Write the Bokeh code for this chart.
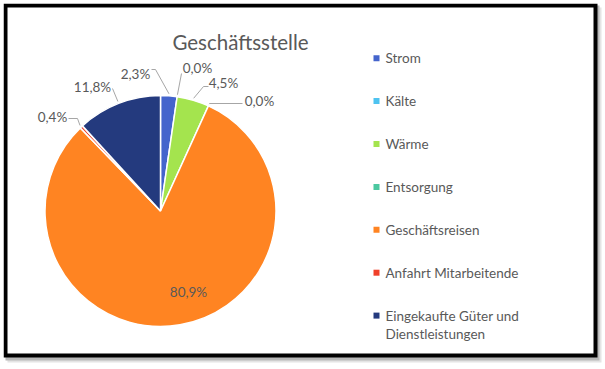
import math
from bokeh.plotting import figure
from bokeh.models import Range1d, ColumnDataSource
from bokeh.core.properties import value
from bokeh.embed import file_html
from bokeh.resources import INLINE

# ---- data ----
categories = ["Strom", "Kälte", "Wärme", "Entsorgung", "Geschäftsreisen",
              "Anfahrt Mitarbeitende", "Eingekaufte Güter und\nDienstleistungen"]
shares = [2.3, 0.0, 4.5, 0.0, 80.9, 0.4, 11.8]
colors = ["#4464CC", "#4EC3F0", "#A4E44E", "#4CC8A0", "#FF8422", "#F0402A", "#243A7E"]
title = "Geschäftsstelle"

# ---- layout (screen pixel coordinates of the reference) ----
W, H = 600, 362
OX, OY = 3, 3
def sx(x): return x - OX
def sy(y): return OY + H - y

CX, CY, R = 160.0, 210.5, 115.5
FONT = value("Lato")
GREY = "#595959"

label_pos = [(135, 73), (197, 67), (223, 82), (259, 100), (188, 291), (52, 116), (92, 86)]
leader_pts = [[(151, 69), (155, 69)], [(181, 73), (181, 73)], [(208, 86), (203, 86)],
              [(242, 103), (209, 103)], None, [(68, 118), (77, 118)], [(112, 88), (112, 88)]]

p = figure(width=W, height=H, x_range=Range1d(0, W), y_range=Range1d(0, H),
           output_backend="svg", toolbar_location=None, min_border=0,
           x_axis_type=None, y_axis_type=None, margin=(3, 0, 0, 3))
p.grid.visible = False
p.outline_line_color = None
p.background_fill_color = "white"
p.border_fill_color = "white"

# frame with shadow
p.quad(left=[sx(7), sx(5)], right=[sx(601), sx(599)], top=[sy(7), sy(5)], bottom=[sy(362), sy(360)],
       fill_color=["#e4e4e4", "#b8b8b8"], line_color=None)
p.quad(left=sx(3), right=sx(597), top=sy(3), bottom=sy(357), fill_color="black", line_color=None)
p.quad(left=sx(7), right=sx(593), top=sy(7), bottom=sy(353), fill_color="white", line_color=None)

# pie
total = sum(shares)
starts, ends, mids = [], [], []
c = 0.0
for v in shares:
    c0 = c / total
    c += v
    c1 = c / total
    starts.append(math.pi / 2 - 2 * math.pi * c1)
    ends.append(math.pi / 2 - 2 * math.pi * c0)
    mids.append(math.pi / 2 - 2 * math.pi * (c0 + c1) / 2)

keep = [i for i, v in enumerate(shares) if v > 0]
src = ColumnDataSource(dict(start=[starts[i] for i in keep], end=[ends[i] for i in keep],
                            color=[colors[i] for i in keep]))
p.wedge(x=sx(CX), y=sy(CY), radius=R, start_angle="start", end_angle="end",
        fill_color="color", line_color="white", line_width=1.5, source=src)

# leaders
lx, ly = [], []
for i, pts in enumerate(leader_pts):
    if pts is None:
        continue
    ex = CX + (R + 2) * math.cos(mids[i])
    ey = CY - (R + 2) * math.sin(mids[i])
    lx.append([sx(a) for a, b in pts] + [sx(ex)])
    ly.append([sy(b) for a, b in pts] + [sy(ey)])
p.multi_line(xs=lx, ys=ly, line_color="#a6a6a6", line_width=1)

# data labels
labels = [f"{v:.1f}".replace(".", ",") + "%" for v in shares]
p.text(x=[sx(a) for a, b in label_pos], y=[sy(b) for a, b in label_pos], text=labels,
       text_align="center", text_baseline="middle", text_font=FONT,
       text_font_size="13.5px", text_color=GREY)

# title
p.text(x=[sx(240)], y=[sy(41)], text=[title], text_align="center", text_baseline="middle",
       text_font=FONT, text_font_size="20.5px", text_color=GREY)

# legend
LEG_X, LEG_Y0, LEG_DY = 376, 57.7, 42.9
mx, my, tx, ty, tt = [], [], [], [], []
for i, name in enumerate(categories):
    yy = LEG_Y0 + i * LEG_DY
    mx.append(sx(LEG_X)); my.append(sy(yy))
    for j, line in enumerate(name.split("\n")):
        tx.append(sx(LEG_X + 9)); ty.append(sy(yy + j * 18.5)); tt.append(line)
p.scatter(x=mx, y=my, marker="square", size=6, fill_color=colors, line_color=None)
p.text(x=tx, y=ty, text=tt, text_align="left", text_baseline="middle", text_font=FONT,
       text_font_size="13.5px", text_color=GREY)

open("out.html", "w").write(file_html(p, INLINE))
